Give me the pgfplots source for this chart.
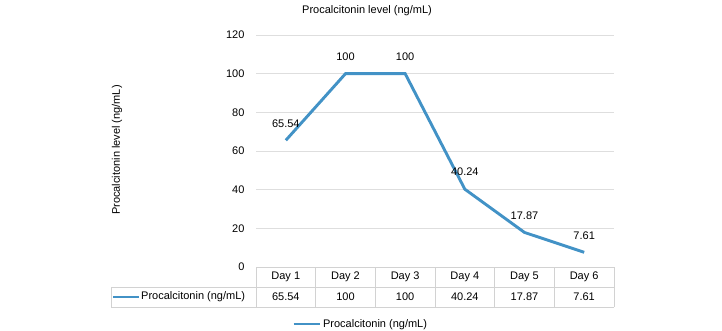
\documentclass[border=0pt]{standalone}
\usepackage{pgfplots}
\pgfplotsset{compat=1.18}
\usepackage{fontspec}
\setmainfont{Liberation Sans}
\definecolor{lineblue}{RGB}{66,146,198}
\definecolor{gridgray}{RGB}{222,222,222}
\definecolor{tablegray}{RGB}{210,210,210}
\pgfplotstableread{
x y label
0 65.54 65.54
1 100 100
2 100 100
3 40.24 40.24
4 17.87 17.87
5 7.61 7.61
}\pctdata
\begin{document}
\begin{tikzpicture}[font=\fontsize{11}{13}\selectfont]
\useasboundingbox (0pt,0pt) rectangle (722pt,330pt);
\begin{axis}[
  at={(256pt,63pt)}, anchor=south west, scale only axis,
  width=358pt, height=232pt,
  xmin=-0.5, xmax=5.5, ymin=0, ymax=120,
  ytick={0,20,...,120}, xtick=\empty,
  axis line style={draw=none},
  ymajorgrids, grid style={gridgray, line width=1pt},
  major tick length=0pt,
  yticklabel style={anchor=east, xshift=-8pt},
  /pgf/number format/assume math mode=true,
  tick label style={font=\fontsize{11}{13}\selectfont},
  clip=false,
  legend style={draw=none, fill=none, at={(0.1006,-0.2457)}, anchor=west,
    inner sep=0pt, font=\fontsize{11}{13}\selectfont},
  legend cell align=left,
  legend image code/.code={\draw[#1] (0pt,0pt) -- (26pt,0pt);},
]
\addplot[color=lineblue, line width=2.9pt, mark=none,
  nodes near coords, point meta=explicit symbolic,
  every node near coord/.append style={anchor=center, yshift=17pt, color=black, font=\fontsize{11}{13}\selectfont}]
  table[x=x, y=y, meta=label] {\pctdata};
\addlegendentry{Procalcitonin (ng/mL)}
\end{axis}
% title and y label
\node at (367pt,319pt) {Procalcitonin level (ng/mL)};
\node[rotate=90] at (117pt,180pt) {Procalcitonin level (ng/mL)};
% data table
\draw[tablegray, line width=0.8pt] (256pt,63pt) -- (614pt,63pt);
\draw[tablegray, line width=0.8pt] (111pt,43pt) -- (614pt,43pt);
\draw[tablegray, line width=0.8pt] (111pt,23pt) -- (614pt,23pt);
\draw[tablegray, line width=0.8pt] (111pt,43pt) -- (111pt,23pt);
\foreach \i in {0,...,6} {
  \draw[tablegray, line width=0.8pt] ({256pt+\i*59.67pt},63pt) -- ({256pt+\i*59.67pt},23pt);
}
\foreach \i/\d/\v in {0/Day 1/65.54, 1/Day 2/100, 2/Day 3/100, 3/Day 4/40.24, 4/Day 5/17.87, 5/Day 6/7.61} {
  \node at ({285.8pt+\i*59.67pt},53pt) {\d};
  \node at ({285.8pt+\i*59.67pt},33pt) {\v};
}
\draw[lineblue, line width=2.9pt] (113pt,33pt) -- (139pt,33pt);
\node[anchor=west, inner sep=0pt] at (141pt,33pt) {Procalcitonin (ng/mL)};
\end{tikzpicture}
\end{document}
